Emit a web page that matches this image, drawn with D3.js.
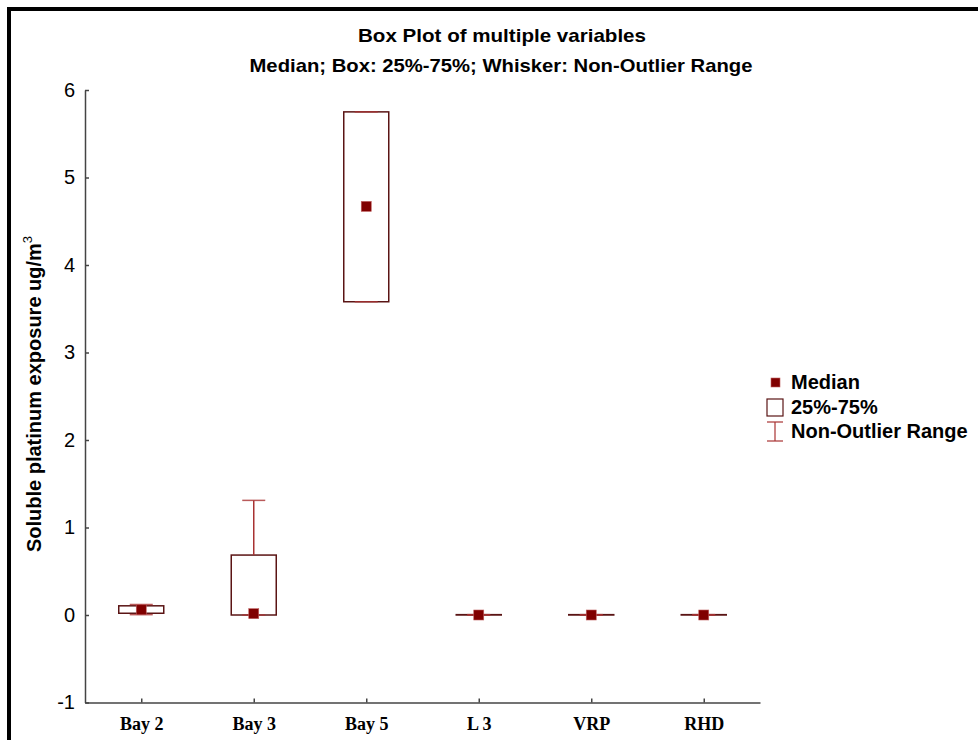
<!DOCTYPE html>
<html lang="en">
<head>
<meta charset="UTF-8">
<title>Box Plot of multiple variables</title>
<script src="https://d3js.org/d3.v7.min.js"></script>
<style>
  body { margin: 0; background: #fff; }
  svg { display: block; }
</style>
</head>
<body>
<script>
  // values
  const categories = ["Bay 2", "Bay 3", "Bay 5", "L 3", "VRP", "RHD"];
  const medians    = [0.06, 0.015, 4.67, 0, 0, 0];
  const q1         = [0.02, 0, 3.58, 0, 0, 0];
  const q3         = [0.105, 0.685, 5.75, 0.004, 0.004, 0.004];
  const whiskLow   = [0.004, 0, 3.58, 0, 0, 0];
  const whiskHigh  = [0.12, 1.31, 5.75, 0.004, 0.004, 0.004];
  const yTicks     = [-1, 0, 1, 2, 3, 4, 5, 6];

  const W = 978, H = 740;
  const boxColor = "#5a1414", whiskColor = "#a83232", medColor = "#800000";

  const svg = d3.select("body").append("svg").attr("width", W).attr("height", H);

  // outer frame (top + left edges only are visible)
  svg.append("path")
    .attr("d", "M9,740 V9 H978")
    .attr("fill", "none").attr("stroke", "#000").attr("stroke-width", 4);

  const x = d3.scalePoint().domain(categories).range([85, 760]).padding(0.5);
  const y = d3.scaleLinear().domain([-1, 6]).range([702.5, 90]);

  // titles
  svg.append("text").attr("x", 502).attr("y", 42).attr("text-anchor", "middle")
    .attr("font-family", "'Liberation Sans Narrow', 'Arial Narrow', sans-serif")
    .attr("font-weight", "bold").attr("font-size", 19)
    .attr("textLength", 288).attr("lengthAdjust", "spacingAndGlyphs")
    .text("Box Plot of multiple variables");
  svg.append("text").attr("x", 501).attr("y", 72).attr("text-anchor", "middle")
    .attr("font-family", "'Liberation Sans Narrow', 'Arial Narrow', sans-serif")
    .attr("font-weight", "bold").attr("font-size", 19)
    .attr("textLength", 503).attr("lengthAdjust", "spacingAndGlyphs")
    .text("Median; Box: 25%-75%; Whisker: Non-Outlier Range");

  // axes
  const yAxis = svg.append("g").attr("transform", "translate(85,0)")
    .call(d3.axisLeft(y).tickValues(yTicks).tickFormat(d => String(d))
      .tickSizeInner(-4).tickSizeOuter(0).tickPadding(10));
  yAxis.selectAll("text").attr("font-family", "'Liberation Sans', Arial, sans-serif")
    .attr("font-size", 20).attr("fill", "#000");

  const xAxis = svg.append("g").attr("transform", "translate(0,702.5)")
    .call(d3.axisBottom(x).tickSizeInner(-4).tickSizeOuter(0).tickPadding(15));
  xAxis.selectAll("text").attr("font-family", "'Liberation Serif', 'Times New Roman', serif")
    .attr("font-weight", "bold").attr("font-size", 18).attr("fill", "#000");

  svg.selectAll(".domain, .tick line").attr("stroke", "#444").attr("stroke-width", 1.5);

  // y axis title
  const yl = svg.append("text")
    .attr("transform", "translate(41,394) rotate(-90)")
    .attr("text-anchor", "middle")
    .attr("font-family", "'Liberation Sans', Arial, sans-serif")
    .attr("font-weight", "bold").attr("font-size", 20);
  yl.append("tspan").text("Soluble platinum exposure ug/m");
  yl.append("tspan").attr("dy", -9).attr("font-size", 13).attr("font-weight", "normal").text("3");

  // boxes
  const bw = 45, cap = 23, ms = 10;
  const g = svg.append("g");
  categories.forEach((c, i) => {
    const cx = x(c);
    g.append("rect")
      .attr("x", cx - bw / 2).attr("y", y(q3[i]))
      .attr("width", bw).attr("height", Math.max(0, y(q1[i]) - y(q3[i])))
      .attr("fill", "none").attr("stroke", boxColor).attr("stroke-width", 1.5);
    // whiskers
    if (whiskHigh[i] > q3[i]) {
      g.append("line").attr("x1", cx).attr("x2", cx)
        .attr("y1", y(q3[i])).attr("y2", y(whiskHigh[i]))
        .attr("stroke", whiskColor).attr("stroke-width", 1.5);
    }
    if (whiskLow[i] < q1[i]) {
      g.append("line").attr("x1", cx).attr("x2", cx)
        .attr("y1", y(q1[i])).attr("y2", y(whiskLow[i]))
        .attr("stroke", whiskColor).attr("stroke-width", 1.5);
    }
    [whiskHigh[i], whiskLow[i]].forEach(v => {
      g.append("line").attr("x1", cx - cap / 2).attr("x2", cx + cap / 2)
        .attr("y1", y(v)).attr("y2", y(v))
        .attr("stroke", whiskColor).attr("stroke-width", 1.5).attr("opacity", 0.8);
    });
    g.append("rect")
      .attr("x", cx - ms / 2).attr("y", y(medians[i]) - ms / 2)
      .attr("width", ms).attr("height", ms)
      .attr("fill", medColor).attr("stroke", "#c06060").attr("stroke-width", 0.6);
  });

  // legend
  const lg = svg.append("g").attr("font-family", "'Liberation Sans', Arial, sans-serif")
    .attr("font-weight", "bold").attr("font-size", 20);
  lg.append("rect").attr("x", 771).attr("y", 378).attr("width", 9).attr("height", 9)
    .attr("fill", medColor).attr("stroke", "#c06060").attr("stroke-width", 0.6);
  lg.append("text").attr("x", 791).attr("y", 389).text("Median");
  lg.append("rect").attr("x", 767).attr("y", 399).attr("width", 16).attr("height", 17)
    .attr("fill", "none").attr("stroke", boxColor).attr("stroke-width", 1.2);
  lg.append("text").attr("x", 791).attr("y", 414).text("25%-75%");
  lg.append("line").attr("x1", 775).attr("x2", 775).attr("y1", 422).attr("y2", 441)
    .attr("stroke", whiskColor).attr("stroke-width", 1.2);
  lg.append("line").attr("x1", 767).attr("x2", 783).attr("y1", 422).attr("y2", 422)
    .attr("stroke", whiskColor).attr("stroke-width", 1.2);
  lg.append("line").attr("x1", 767).attr("x2", 783).attr("y1", 441).attr("y2", 441)
    .attr("stroke", whiskColor).attr("stroke-width", 1.2);
  lg.append("text").attr("x", 791).attr("y", 438).text("Non-Outlier Range");
</script>
</body>
</html>
